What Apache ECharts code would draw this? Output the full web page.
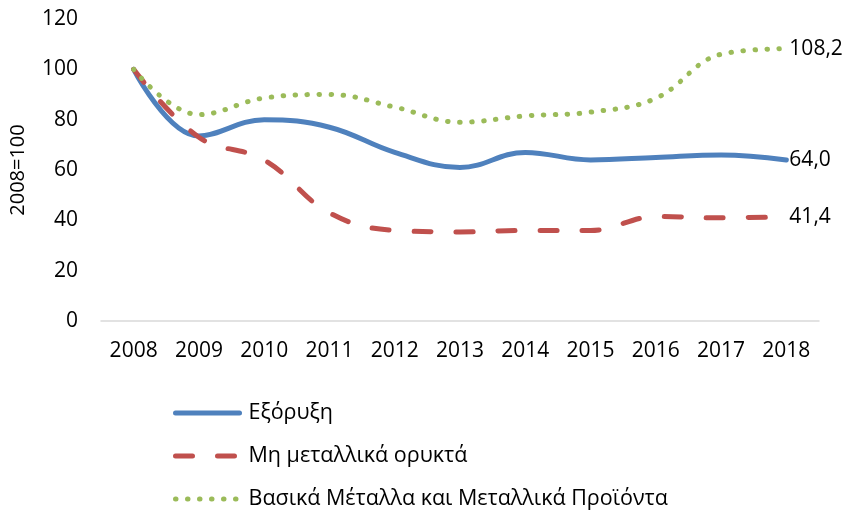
<!DOCTYPE html>
<html>
<head>
<meta charset="utf-8">
<script src="https://cdn.jsdelivr.net/npm/echarts@6/dist/echarts.min.js"></script>
<style>
  html, body { margin: 0; padding: 0; background: #fff; }
  #chart { width: 843px; height: 510px; }
</style>
</head>
<body>
<div id="chart"></div>
<script>
// κατηγορίες (έτη) και τιμές δεικτών, 2008=100
const years = ["2008", "2009", "2010", "2011", "2012", "2013", "2014", "2015", "2016", "2017", "2018"];
const exoryxi = [100, 73.5, 80, 77, 67, 61, 67, 64, 65, 66, 64.0];
const mhMetallika = [100, 73, 64, 43, 36, 35.4, 36, 36, 41.5, 41, 41.4];
const vasikaMetalla = [100, 82, 88.6, 90, 85, 79, 81.5, 83, 88.5, 106, 108.2];
const yTicks = { min: 0, max: 120, interval: 20 };

const FONT = "Open Sans";
const fmt = v => v.toFixed(1).replace(".", ",");

const BLUE = "#4F81BD", RED = "#C0504D", GREEN = "#9BBB59";
const DASH = [17, 25], DOT = [0.5, 11.5];

function endLabel() {
  return {
    show: true,
    distance: 3,
    color: "#000",
    fontFamily: FONT,
    fontSize: 21,
    formatter: p => fmt(p.value)
  };
}

const chart = echarts.init(document.getElementById("chart"));
chart.setOption({
  animation: false,
  textStyle: { fontFamily: FONT },
  grid: { left: 101, right: 24, top: 19, bottom: 189, containLabel: false },
  xAxis: {
    type: "category",
    data: years,
    boundaryGap: true,
    axisLine: { lineStyle: { color: "#d9d9d9", width: 1.5 } },
    axisTick: { show: false },
    axisLabel: { color: "#000", fontSize: 21, margin: 20, fontFamily: FONT }
  },
  yAxis: {
    type: "value",
    min: yTicks.min,
    max: yTicks.max,
    interval: yTicks.interval,
    name: "2008=100",
    nameLocation: "middle",
    nameGap: 73,
    nameRotate: 90,
    nameTextStyle: { color: "#000", fontSize: 20, fontFamily: FONT },
    axisLine: { show: false },
    axisTick: { show: false },
    splitLine: { show: false },
    axisLabel: { color: "#000", fontSize: 21, margin: 23, fontFamily: FONT }
  },
  legend: {
    orient: "vertical",
    left: 168,
    top: 397,
    height: 120,
    itemWidth: 64,
    itemHeight: 16,
    itemGap: 21,
    itemStyle: { opacity: 0 },
    textStyle: { color: "#000", fontSize: 21.5, fontFamily: FONT, padding: [0, 0, 0, 4] },
    data: [
      { name: "Εξόρυξη", lineStyle: { width: 5, color: BLUE, cap: "round" } },
      { name: "Μη μεταλλικά ορυκτά", lineStyle: { width: 5, color: RED, type: DASH, cap: "round" } },
      { name: "Βασικά Μέταλλα και Μεταλλικά Προϊόντα", lineStyle: { width: 5, color: GREEN, type: DOT, cap: "round" } }
    ]
  },
  series: [
    {
      name: "Εξόρυξη",
      type: "line",
      data: exoryxi,
      smooth: 0.4,
      symbol: "none",
      color: BLUE,
      lineStyle: { width: 5, color: BLUE, cap: "round" },
      endLabel: endLabel()
    },
    {
      name: "Μη μεταλλικά ορυκτά",
      type: "line",
      data: mhMetallika,
      smooth: 0.4,
      symbol: "none",
      color: RED,
      lineStyle: { width: 5, color: RED, type: DASH, cap: "round" },
      endLabel: endLabel()
    },
    {
      name: "Βασικά Μέταλλα και Μεταλλικά Προϊόντα",
      type: "line",
      data: vasikaMetalla,
      smooth: 0.4,
      symbol: "none",
      color: GREEN,
      lineStyle: { width: 5, color: GREEN, type: DOT, cap: "round" },
      endLabel: endLabel()
    }
  ]
});
</script>
</body>
</html>
